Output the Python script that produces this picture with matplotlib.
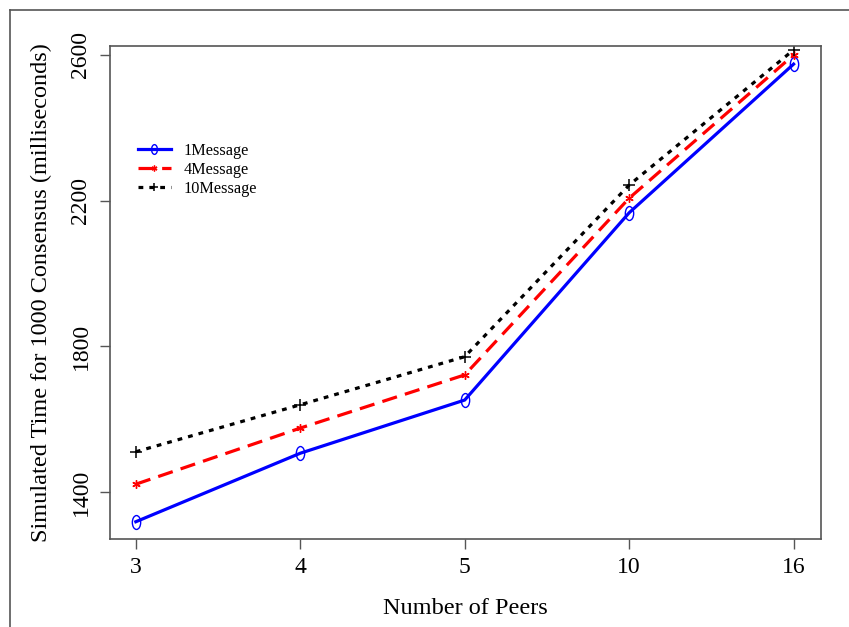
import matplotlib

matplotlib.use("Agg")
import matplotlib.pyplot as plt
from matplotlib.lines import Line2D
from matplotlib.path import Path
from matplotlib.transforms import Affine2D

peers = ["3", "4", "5", "10", "16"]
one_message = [1319, 1507, 1653, 2167, 2575]
four_message = [1422, 1576, 1722, 2207, 2600]
ten_message = [1511, 1640, 1772, 2243, 2614]
y_ticks = [1400, 1800, 2200, 2600]

plt.rcParams["font.family"] = ["Liberation Serif", "DejaVu Serif"]

# R draws pch=1 a bit squeezed in this export, so use a narrow ellipse
ellipse = Path.unit_circle().transformed(Affine2D().scale(0.6, 1.0))

fig = plt.figure(figsize=(8.49, 6.27), dpi=100)
ax = fig.add_axes([0.129, 0.140, 0.8377, 0.7871])

pos = list(range(1, len(peers) + 1))
ax.plot(pos, one_message, color="#0000ff", lw=2.3, marker=ellipse,
        ms=10, mfc="none", mec="#0000ff", mew=1.0, label="1Message")
ax.plot(pos, four_message, color="#ff0000", lw=2.3, dashes=(4.8, 2.6),
        marker=(6, 2, 0), ms=6, mec="#ff0000", mew=1.0, label="4Message")
ax.plot(pos, ten_message, color="black", lw=2.3, dashes=(1.5, 1.9),
        marker="+", ms=8, mew=1.1, label="10Message")

ax.set_xlim(0.84, 5.165)
ax.set_ylim(1271, 2625.5)
ax.set_xticks(pos)
ax.set_xticklabels(peers)
ax.set_yticks(y_ticks)
plt.setp(ax.get_yticklabels(), rotation=90, va="center")

for sp in ax.spines.values():
    sp.set_color("#555555")
    sp.set_linewidth(1.2)
ax.tick_params(direction="out", length=7, width=1.0, color="#555555",
               labelsize=17, pad=6)
ax.tick_params(axis="y", pad=6)

ax.set_xlabel("Number of Peers", fontsize=17.5, labelpad=14)
ax.set_ylabel("Simulated Time for 1000 Consensus (milliseconds)",
              fontsize=17.5, labelpad=13)

ax.legend(loc="upper left", bbox_to_anchor=(0.031, 0.817), frameon=False,
          fontsize=11.7, handlelength=2.0, handletextpad=0.8,
          labelspacing=0.2, borderaxespad=0, markerscale=0.7)

# thin frame left over from the original page border
for xs, ys in (([10 / 849, 1.0], [1 - 10 / 627] * 2),
               ([10 / 849] * 2, [0.0, 1 - 10 / 627])):
    fig.add_artist(Line2D(xs, ys, transform=fig.transFigure,
                          color="#555555", lw=1.2))

fig.savefig("out.png", dpi=100)
